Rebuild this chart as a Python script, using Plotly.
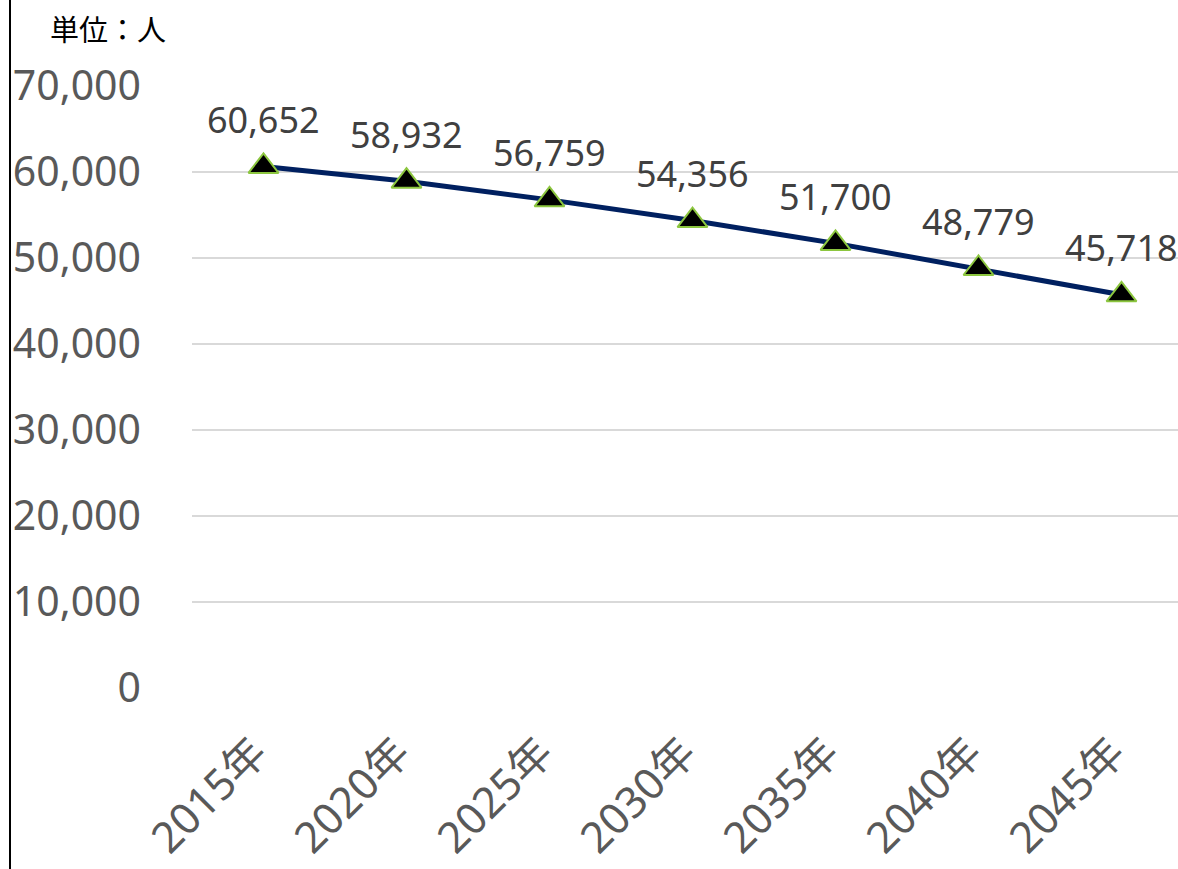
import plotly.graph_objects as go

years = ["2015年", "2020年", "2025年", "2030年", "2035年", "2040年", "2045年"]
population = [60652, 58932, 56759, 54356, 51700, 48779, 45718]
y_ticks = [0, 10000, 20000, 30000, 40000, 50000, 60000, 70000]
y_tick_labels = ["0", "10,000", "20,000", "30,000", "40,000", "50,000", "60,000", "70,000"]
unit_label = "単位：人"

FONT = "Noto Sans, Noto Sans CJK JP, sans-serif"
W, H = 1178, 869
L, R, T, B = 192, 0, 86, 181
PW, PH = W - L - R, H - T - B

fig = go.Figure()
fig.add_trace(go.Scatter(
    x=years, y=population, mode="lines+markers",
    line=dict(color="#002060", width=5),
    marker=dict(symbol="triangle-up", size=26, color="#000000",
                line=dict(color="#8CC63F", width=2)),
    cliponaxis=False, showlegend=False,
))

for xv, yv in zip(years, population):
    fig.add_annotation(x=xv, y=yv, text=f"{yv:,}", showarrow=False,
                       yshift=47, xanchor="center", yanchor="middle",
                       font=dict(family=FONT, size=36, color="#404040"))

fig.add_annotation(xref="paper", yref="paper", x=(48 - L) / PW, y=(H - B - 28) / PH,
                   text=unit_label, showarrow=False, xanchor="left", yanchor="middle",
                   font=dict(family="Noto Sans CJK JP, sans-serif", size=29, color="#000000"))

fig.add_shape(type="line", xref="paper", yref="paper",
              x0=(10 - L) / PW, x1=(10 - L) / PW, y0=-B / PH, y1=(H - B) / PH,
              line=dict(color="#000000", width=2))

fig.update_layout(
    width=W, height=H,
    margin=dict(l=L, r=R, t=T, b=B, autoexpand=False),
    plot_bgcolor="#ffffff", paper_bgcolor="#ffffff",
    xaxis=dict(range=[-0.5, 6.395], tickangle=-45, showgrid=False, zeroline=False,
               showline=False, ticks="", ticklabelstandoff=30, ticklabelshift=-9,
               tickfont=dict(family=FONT, size=43, color="#595959")),
    yaxis=dict(range=[0, 70000], tickvals=y_ticks, ticktext=y_tick_labels,
               showgrid=True, gridcolor="#d9d9d9", gridwidth=1.5, zeroline=False,
               showline=False, ticks="", ticklabelstandoff=50,
               tickfont=dict(family=FONT, size=41, color="#595959")),
)

fig.write_html("out.html", config={"displayModeBar": False},
               post_script="document.body.style.margin='0';document.body.style.overflow='hidden';")
